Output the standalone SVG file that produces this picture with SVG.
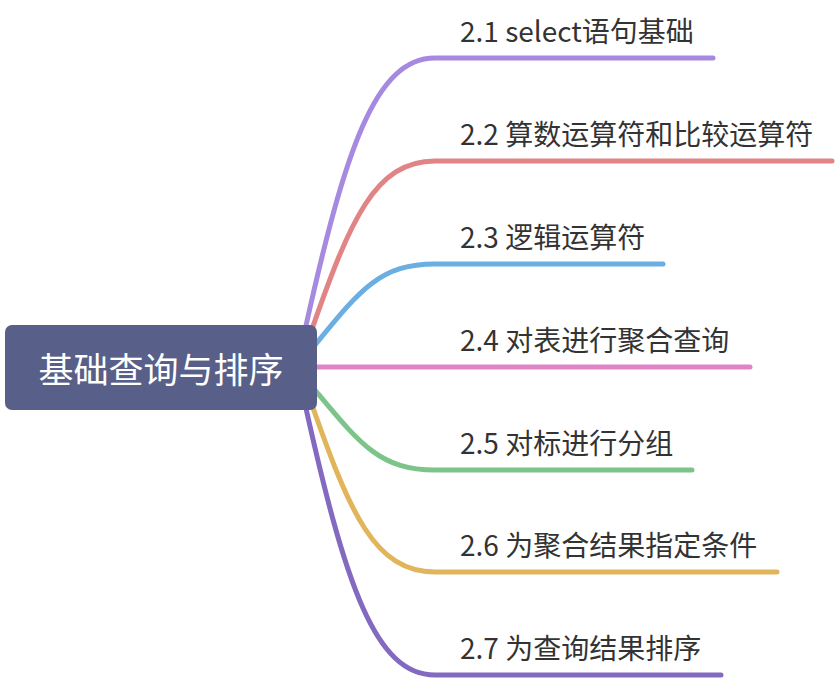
<svg xmlns="http://www.w3.org/2000/svg" width="836" height="680" viewBox="0 0 836 680">
<style>
.br{fill:none;stroke-width:5;stroke-linecap:round}
.lb{font-family:"Noto Sans CJK SC","Noto Sans",sans-serif;font-size:28px;fill:#333333}
.ct{font-family:"Noto Sans CJK SC","Noto Sans",sans-serif;font-size:35px;fill:#ffffff}
</style>
<rect width="836" height="680" fill="#ffffff"/>
<g id="connectors">
<path class="br" stroke="#a58ae0" d="M305,330 C345,150 375,58 435,58 L713,58"/>
<path class="br" stroke="#e08485" d="M311,332 C350,220 375,161 435,161 L832,161"/>
<path class="br" stroke="#6baee2" d="M315,345 C360,290 380,264 435,264 L663,264"/>
<path class="br" stroke="#e083c9" d="M315,367 L750,367"/>
<path class="br" stroke="#7cc48a" d="M315,390 C360,444 380,470 435,470 L692,470"/>
<path class="br" stroke="#e0b55c" d="M311,402 C350,514 375,572 435,572 L777,572"/>
<path class="br" stroke="#8369c0" d="M305,404 C345,584 375,675 435,675 L721,675"/>
</g>
<g id="root">
<rect x="5" y="325" width="312" height="85" rx="7" fill="#585f88"/>
<text class="ct" x="161" y="383" text-anchor="middle">基础查询与排序</text>
</g>
<g id="n1"><text class="lb" x="460" y="42">2.1 select语句基础</text></g>
<g id="n2"><text class="lb" x="460" y="145">2.2 算数运算符和比较运算符</text></g>
<g id="n3"><text class="lb" x="460" y="248">2.3 逻辑运算符</text></g>
<g id="n4"><text class="lb" x="460" y="351">2.4 对表进行聚合查询</text></g>
<g id="n5"><text class="lb" x="460" y="454">2.5 对标进行分组</text></g>
<g id="n6"><text class="lb" x="460" y="556">2.6 为聚合结果指定条件</text></g>
<g id="n7"><text class="lb" x="460" y="659">2.7 为查询结果排序</text></g>
</svg>
